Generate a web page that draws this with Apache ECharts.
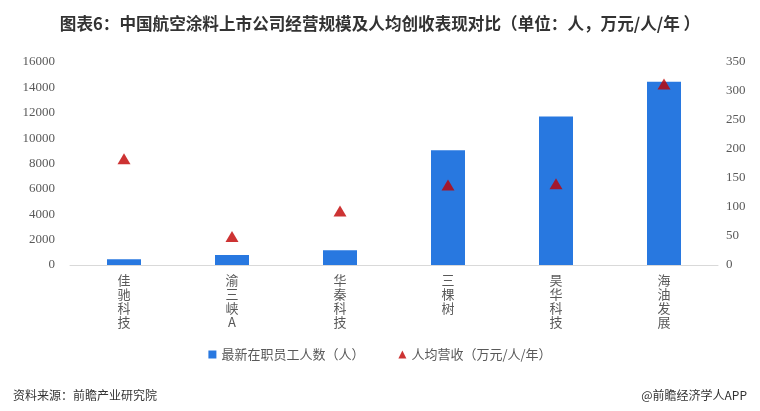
<!DOCTYPE html>
<html>
<head>
<meta charset="utf-8">
<script src="https://cdn.jsdelivr.net/npm/echarts@6/dist/echarts.min.js"></script>
<style>
html,body{margin:0;padding:0;background:#fff;}
#main{width:760px;height:411px;}
</style>
</head>
<body>
<div id="main"></div>
<script>
// 公司名称
var companies = ['佳驰科技', '渝三峡A', '华秦科技', '三棵树', '昊华科技', '海油发展'];
// 最新在职员工人数（人）
var staffCount = [450, 790, 1160, 9050, 11700, 14450];
// 人均营收（万元/人/年）
var revenuePer = [183, 49, 93, 138, 140, 312];

var leftTicks = [0, 16000, 2000];
var rightTicks = [0, 350, 50];

var chart = echarts.init(document.getElementById('main'));
var cjk = '"Noto Sans CJK SC", sans-serif';
var option = {
	backgroundColor: '#fff',
	animation: false,
	title: [
		{text: '图表6：中国航空涂料上市公司经营规模及人均创收表现对比（单位：人，万元/人/年 ）',
			left: 'center', top: 10,
			textStyle: {fontFamily: cjk, fontSize: 16.6, fontWeight: 'bold', color: '#333'}},
		{text: '资料来源：前瞻产业研究院', left: 8, top: 384,
			textStyle: {fontFamily: cjk, fontSize: 12, fontWeight: 'normal', color: '#333'}},
		{text: '@前瞻经济学人APP', right: 8, top: 384,
			textStyle: {fontFamily: cjk, fontSize: 12, fontWeight: 'normal', color: '#333'}}
	],
	legend: {
		top: 343, left: 'center',
		itemWidth: 8, itemHeight: 8, itemGap: 34,
		textStyle: {fontFamily: cjk, fontSize: 13, color: '#595959'},
		data: [{name: '最新在职员工人数（人）', icon: 'rect'}, {name: '人均营收（万元/人/年）', icon: 'triangle'}]
	},
	grid: {left: 70, right: 42, top: 62, bottom: 146},
	xAxis: {
		type: 'category', data: companies,
		axisLine: {lineStyle: {color: '#d9d9d9'}},
		axisTick: {show: false},
		axisLabel: {
			interval: 0, margin: 8, lineHeight: 14,
			fontFamily: cjk, fontSize: 13, color: '#595959',
			formatter: function(v){ return v.split('').join('\n'); }
		}
	},
	yAxis: [
		{type: 'value', min: leftTicks[0], max: leftTicks[1], interval: leftTicks[2],
			splitLine: {show: false}, axisLine: {show: false}, axisTick: {show: false},
			axisLabel: {fontFamily: '"Liberation Serif", serif', fontSize: 13, color: '#595959', margin: 15,
				formatter: function(v){ return String(v); }}},
		{type: 'value', min: rightTicks[0], max: rightTicks[1], interval: rightTicks[2],
			splitLine: {show: false}, axisLine: {show: false}, axisTick: {show: false},
			axisLabel: {fontFamily: '"Liberation Serif", serif', fontSize: 13, color: '#595959', margin: 8,
				formatter: function(v){ return String(v); }}}
	],
	series: [
		{name: '最新在职员工人数（人）', type: 'bar', data: staffCount, yAxisIndex: 0,
			barWidth: 34, itemStyle: {color: '#2878e0'}},
		{name: '人均营收（万元/人/年）', type: 'scatter', data: revenuePer, yAxisIndex: 1,
			symbol: 'triangle', symbolSize: [13, 11], itemStyle: {color: '#c00000'}}
	]
};
chart.setOption(option);
</script>
</body>
</html>
